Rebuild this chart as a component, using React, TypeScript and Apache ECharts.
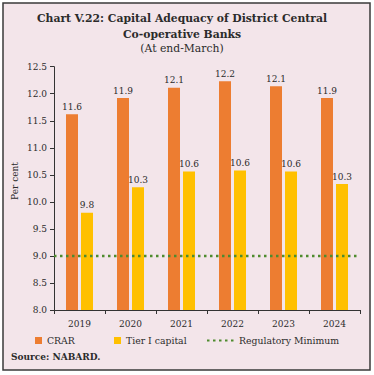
import React, { useEffect, useRef } from "react";
import * as echarts from "echarts";

const years = ["2019", "2020", "2021", "2022", "2023", "2024"];
const crar = [11.62, 11.92, 12.11, 12.23, 12.14, 11.92];
const tier1 = [9.8, 10.27, 10.56, 10.58, 10.56, 10.33];
const regulatoryMinimum = 9.0;
const seriesNames = ["CRAR", "Tier I capital", "Regulatory Minimum"];

const FONT = "DejaVu Serif";
const BG = "#F3E5EA";
const TXT = "#2b2b2b";

export default function App() {
  const ref = useRef<HTMLDivElement>(null);
  useEffect(() => {
    document.body.style.margin = "0";
    const chart = echarts.init(ref.current!, null, { renderer: "svg" });
    const legendBase = {
      top: 336,
      padding: 0,
      itemGap: 0,
      textStyle: { fontFamily: FONT, fontSize: 9.3, color: TXT },
    };
    chart.setOption({
      animation: false,
      backgroundColor: "#ffffff",
      textStyle: { fontFamily: FONT },
      title: {
        text: "Chart V.22: Capital Adequacy of District Central\nCo-operative Banks",
        subtext: "(At end-March)",
        left: 182,
        textAlign: "center",
        top: 10,
        itemGap: 0,
        padding: 0,
        textStyle: { fontFamily: FONT, fontSize: 10.8, fontWeight: "bold", color: TXT, lineHeight: 16 },
        subtextStyle: { fontFamily: FONT, fontSize: 10.8, color: TXT, lineHeight: 13 },
      },
      graphic: [
        {
          type: "rect",
          z: -10,
          shape: { x: 3, y: 3, width: 367, height: 367 },
          style: { fill: BG, stroke: "#3a3a3a", lineWidth: 1.5 },
        },
        {
          type: "text",
          x: 14.5,
          y: 181,
          rotation: Math.PI / 2,
          style: {
            text: "Per cent",
            fontFamily: FONT,
            fontSize: 9,
            fill: TXT,
            align: "center",
            verticalAlign: "middle",
          },
        },
        {
          type: "text",
          x: 11,
          y: 357,
          style: {
            text: "Source: NABARD.",
            fontFamily: FONT,
            fontSize: 9,
            fontWeight: "bold",
            fill: TXT,
            align: "left",
            verticalAlign: "middle",
          },
        },
      ],
      legend: [
        { ...legendBase, data: [{ name: seriesNames[0], icon: "rect" }], left: 35, itemWidth: 7, itemHeight: 7 },
        { ...legendBase, data: [{ name: seriesNames[1], icon: "rect" }], left: 114, itemWidth: 7, itemHeight: 7 },
        {
          ...legendBase,
          data: [{ name: seriesNames[2], itemStyle: { opacity: 0 } }],
          left: 206,
          itemWidth: 27,
          itemHeight: 7,
        },
      ],
      grid: { left: 54, right: 14, top: 66.7, bottom: 65 },
      xAxis: [
        {
          type: "category",
          data: years,
          axisLine: { lineStyle: { color: "#333", width: 1 } },
          axisTick: { show: true, length: 4, lineStyle: { color: "#333" } },
          axisLabel: { fontFamily: FONT, fontSize: 9, color: TXT, margin: 9 },
        },
        { type: "value", min: 0, max: 1, show: false },
      ],
      yAxis: {
        type: "value",
        min: 8,
        max: 12.5,
        interval: 0.5,
        splitLine: { show: false },
        axisLine: { show: true, lineStyle: { color: "#333", width: 1 } },
        axisTick: { show: true, length: 4, lineStyle: { color: "#333" } },
        axisLabel: {
          fontFamily: FONT,
          fontSize: 9,
          color: TXT,
          margin: 7,
          formatter: (v: number) => v.toFixed(1),
        },
      },
      series: [
        {
          name: seriesNames[0],
          type: "bar",
          data: crar,
          barWidth: 12,
          barGap: "25%",
          itemStyle: { color: "#ED7D31" },
          label: {
            show: true,
            position: "top",
            distance: 3,
            fontFamily: FONT,
            fontSize: 9,
            color: TXT,
            formatter: (p: any) => Number(p.value).toFixed(1),
          },
        },
        {
          name: seriesNames[1],
          type: "bar",
          data: tier1,
          barWidth: 12,
          barGap: "25%",
          itemStyle: { color: "#FFC000" },
          label: {
            show: true,
            position: "top",
            distance: 3,
            fontFamily: FONT,
            fontSize: 9,
            color: TXT,
            formatter: (p: any) => Number(p.value).toFixed(1),
          },
        },
        {
          name: seriesNames[2],
          type: "line",
          xAxisIndex: 1,
          data: [
            [0, regulatoryMinimum],
            [1, regulatoryMinimum],
          ],
          symbol: "none",
          z: 5,
          lineStyle: { color: "#4E8B2E", width: 2.5, type: [2.5, 3.5] },
          itemStyle: { color: "#4E8B2E" },
        },
      ],
    });
    return () => chart.dispose();
  }, []);
  return <div ref={ref} style={{ width: 374, height: 375 }} />;
}
